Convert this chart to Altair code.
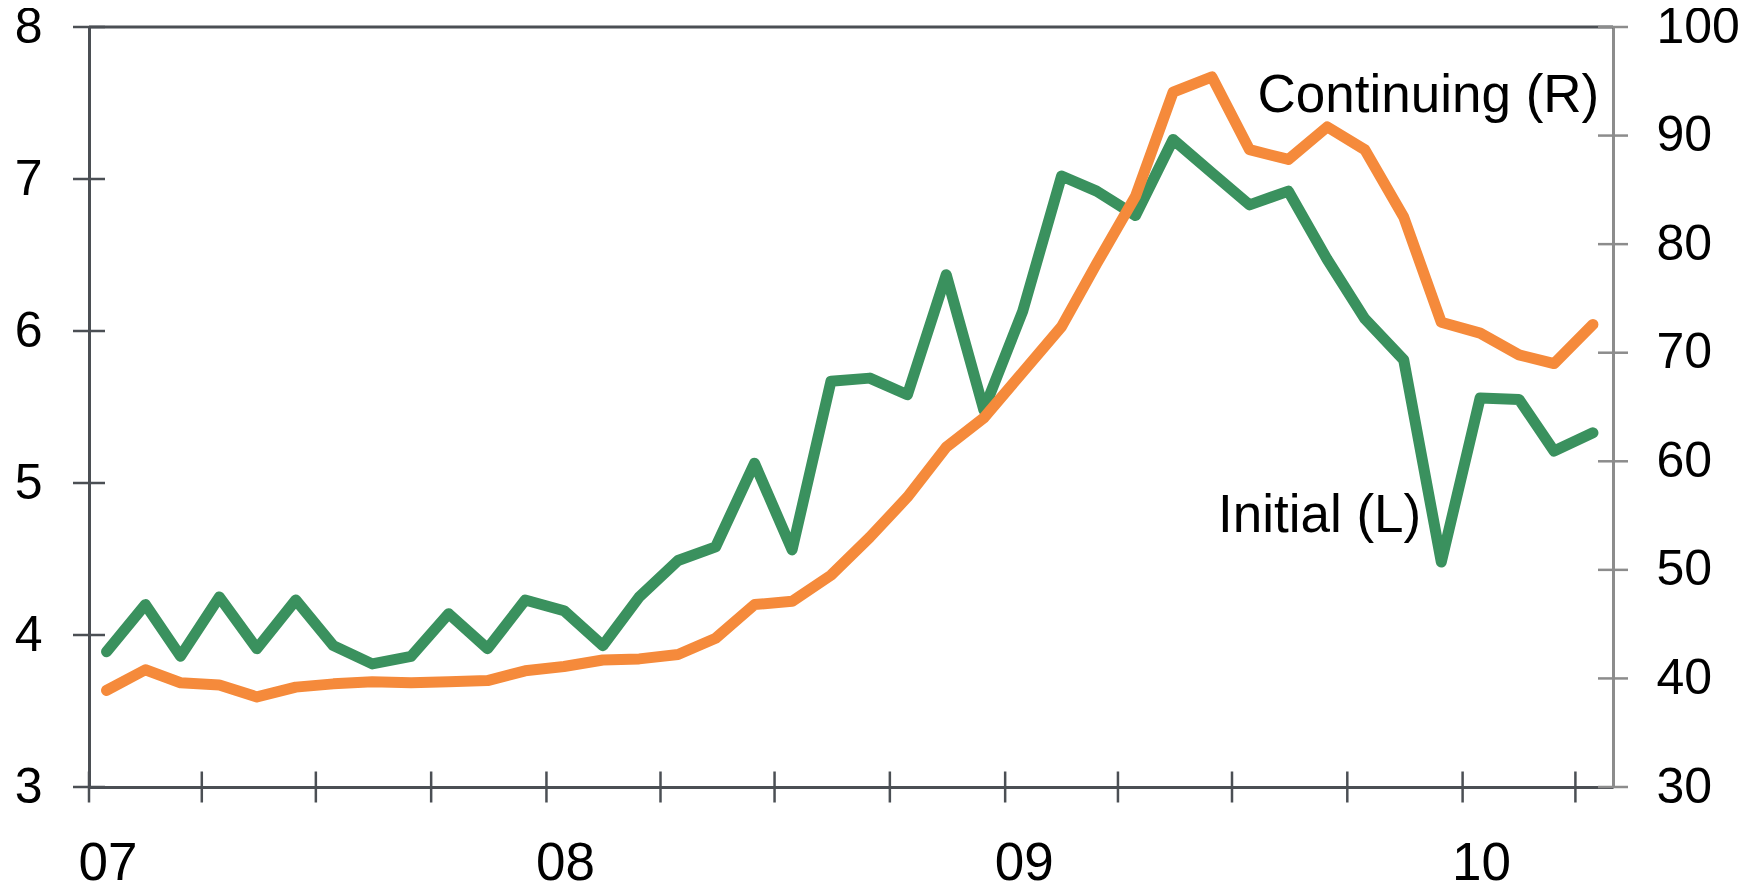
import altair as alt
import pandas as pd

# ---- data -------------------------------------------------------------
months = [f"{y}-{m:02d}-15" for y in range(2007, 2011) for m in range(1, 13)][:40]

initial = [3.89, 4.20, 3.86, 4.25, 3.91, 4.23, 3.93, 3.81, 3.86, 4.14,
           3.91, 4.23, 4.16, 3.93, 4.25, 4.49, 4.58, 5.13, 4.56, 5.67,
           5.69, 5.58, 6.37, 5.48, 6.13, 7.02, 6.92, 6.76, 7.26, 7.04,
           6.83, 6.92, 6.47, 6.08, 5.81, 4.48, 5.56, 5.55, 5.21, 5.33]

continuing = [38.9, 40.8, 39.6, 39.4, 38.3, 39.2, 39.5, 39.7, 39.6, 39.7,
              39.8, 40.7, 41.1, 41.7, 41.8, 42.2, 43.7, 46.8, 47.1, 49.5,
              53.0, 56.7, 61.3, 64.0, 68.2, 72.4, 78.2, 84.4, 94.0, 95.4,
              88.7, 87.8, 90.8, 88.7, 82.5, 72.8, 71.8, 69.8, 69.0, 72.6]

quarter_ticks = ["2007-01-01", "2007-04-01", "2007-07-01", "2007-10-01",
                 "2008-01-01", "2008-04-01", "2008-07-01", "2008-10-01",
                 "2009-01-01", "2009-04-01", "2009-07-01", "2009-10-01",
                 "2010-01-01", "2010-04-01"]
year_label_years = [2007, 2008, 2009, 2010]
left_ticks = [3, 4, 5, 6, 7, 8]
right_ticks = [30, 40, 50, 60, 70, 80, 90, 100]
x_start, x_end = "2007-01-01", "2010-05-01"

labels_left = pd.DataFrame({"date": ["2009-11-29"], "v": [4.68], "label": ["Initial (L)"]})
labels_right = pd.DataFrame({"date": ["2010-04-20"], "v": [92.2], "label": ["Continuing (R)"]})

df = pd.DataFrame({"date": months, "initial": initial, "continuing": continuing})
qdf = pd.DataFrame({"date": quarter_ticks, "v": [left_ticks[0]] * len(quarter_ticks)})
ldf = pd.DataFrame({"date": [x_start] * len(left_ticks), "v": left_ticks})
rdf = pd.DataFrame({"date": [x_end] * len(right_ticks), "v": right_ticks})
topdf = pd.DataFrame({"date": [x_start], "date2": [x_end], "v": [left_ticks[-1]]})

# ---- style ------------------------------------------------------------
FONT = "Liberation Sans"
DARK = "#4b4f54"
LIGHT = "#8c8c8c"
GREEN = "#3a915e"
ORANGE = "#f58a3b"
Y_FS = 50
X_FS = 53
ANN_FS = 53
LW = 11

x_scale = alt.Scale(type="utc", nice=False,
                    domain=[alt.DateTime(year=2007, month=1, date=1, utc=True),
                            alt.DateTime(year=2010, month=5, date=1, utc=True)])
x_axis = alt.Axis(values=[alt.DateTime(year=y, month=1, date=1, utc=True) for y in year_label_years],
                  labelExpr="utcFormat(datum.value, '%y')", labelAlign="left", labelOffset=-11,
                  labelBaseline="top", labelPadding=50, labelFontSize=X_FS, labelFont=FONT,
                  labelColor="black", ticks=False, domainColor=DARK, domainWidth=3,
                  grid=False, title=None)
X = alt.X("date:T", scale=x_scale, axis=x_axis)

yl_scale = alt.Scale(domain=[3, 8], nice=False, zero=False)
yl_axis = alt.Axis(values=left_ticks, orient="left", ticks=False, labelPadding=47,
                   labelFontSize=Y_FS, labelFont=FONT, labelColor="black",
                   domainColor=DARK, domainWidth=3, grid=False, title=None)
yr_scale = alt.Scale(domain=[30, 100], nice=False, zero=False)
yr_axis = alt.Axis(values=right_ticks, orient="right", ticks=False, labelPadding=43,
                   labelFontSize=Y_FS, labelFont=FONT, labelColor="black",
                   domainColor=LIGHT, domainWidth=3, grid=False, title=None)

# ---- left group -------------------------------------------------------
top_rule = alt.Chart(topdf).mark_rule(color=DARK, strokeWidth=3).encode(
    x=X, x2="date2:T", y=alt.Y("v:Q", scale=yl_scale, axis=yl_axis))
green = alt.Chart(df).mark_line(color=GREEN, strokeWidth=LW, strokeCap="round",
                                strokeJoin="round").encode(
    x=X, y=alt.Y("initial:Q", scale=yl_scale, axis=yl_axis))
qticks = alt.Chart(qdf).mark_tick(orient="vertical", size=31, thickness=2.5, color=DARK,
                                  opacity=1).encode(
    x=X, y=alt.Y("v:Q", scale=yl_scale, axis=yl_axis))
lticks = alt.Chart(ldf).mark_tick(orient="horizontal", size=32, thickness=2.5, color=DARK,
                                  opacity=1).encode(
    x=X, y=alt.Y("v:Q", scale=yl_scale, axis=yl_axis))
init_lbl = alt.Chart(labels_left).mark_text(align="right", baseline="alphabetic", fontSize=ANN_FS,
                                            font=FONT, color="black").encode(
    x=X, y=alt.Y("v:Q", scale=yl_scale, axis=yl_axis), text="label:N")
left_group = alt.layer(top_rule, qticks, lticks, green, init_lbl)

# ---- right group ------------------------------------------------------
orange = alt.Chart(df).mark_line(color=ORANGE, strokeWidth=LW, strokeCap="round",
                                 strokeJoin="round").encode(
    x=X, y=alt.Y("continuing:Q", scale=yr_scale, axis=yr_axis))
rticks = alt.Chart(rdf).mark_tick(orient="horizontal", size=30, thickness=2.5, color=LIGHT,
                                  opacity=1).encode(
    x=X, y=alt.Y("v:Q", scale=yr_scale, axis=yr_axis))
cont_lbl = alt.Chart(labels_right).mark_text(align="right", baseline="alphabetic", fontSize=ANN_FS,
                                             font=FONT, color="black").encode(
    x=X, y=alt.Y("v:Q", scale=yr_scale, axis=yr_axis), text="label:N")
right_group = alt.layer(rticks, orange, cont_lbl)

chart = alt.layer(left_group, right_group).resolve_scale(y="independent").properties(
    width=1524, height=760,
    autosize=alt.AutoSizeParams(type="none"),
    padding={"left": 81, "top": 19, "right": 128, "bottom": 102},
).configure_view(stroke="transparent").configure(background="white")

chart.save("out.html", embed_options={"renderer": "svg", "actions": False})
